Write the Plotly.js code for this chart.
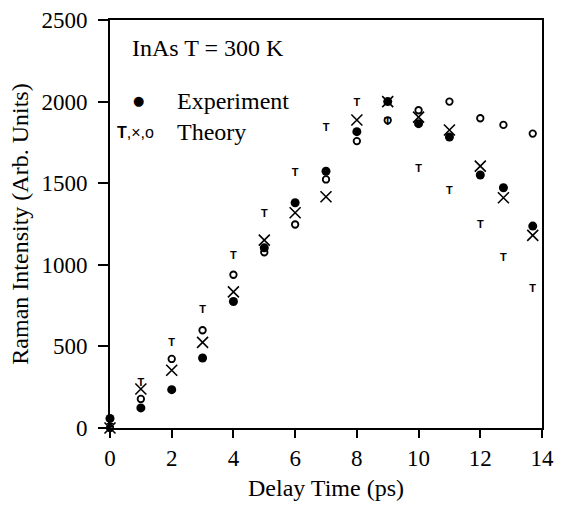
<!DOCTYPE html>
<html>
<head>
<meta charset="utf-8">
<script src="https://cdn.plot.ly/plotly-3.0.1.min.js"></script>
<style>body{margin:0;background:#fff}#chart{width:561px;height:506px}</style>
</head>
<body>
<div id="chart"></div>
<script>
// Delay times (ps)
const delay = [0, 1, 2, 3, 4, 5, 6, 7, 8, 9, 10, 11, 12, 12.75, 13.7];
// Experiment (filled circles)
const experiment = [58, 123, 235, 429, 775, 1104, 1380, 1573, 1816, 2000, 1865, 1783, 1550, 1472, 1237];
// Theory, "T" symbols
const theoryT = [0, 272, 517, 722, 1053, 1309, 1558, 1836, 1990, 1875, 1585, 1452, 1243, 1043, 853];
// Theory, crosses
const theoryX = [0, 239, 354, 525, 834, 1151, 1319, 1417, 1887, 2000, 1905, 1826, 1605, 1411, 1180];
// Theory, open circles
const theoryO = [0, 178, 423, 599, 939, 1077, 1247, 1523, 1758, 1885, 1947, 2000, 1898, 1857, 1804];

const xTicks = [0, 2, 4, 6, 8, 10, 12, 14];
const yTicks = [0, 500, 1000, 1500, 2000, 2500];

const serif = "Liberation Serif, Times New Roman, serif";

const traces = [
  {x: delay, y: theoryO, mode: "markers", type: "scatter", cliponaxis: false,
   marker: {symbol: "circle-open", size: 6.5, color: "#000", line: {width: 1.8, color: "#000"}}},
  {x: delay, y: theoryX, mode: "markers", type: "scatter", cliponaxis: false,
   marker: {symbol: "x-thin-open", size: 11, color: "#000", line: {width: 1.6, color: "#000"}}},
  {x: delay, y: theoryT, mode: "text", type: "scatter", cliponaxis: false,
   text: theoryT.map(() => "<b>T</b>"), textposition: "middle center",
   textfont: {family: "Liberation Sans, Arial, sans-serif", size: 11, color: "#000000"}},
  {x: delay, y: experiment, mode: "markers", type: "scatter", cliponaxis: false,
   marker: {symbol: "circle", size: 9, color: "#000"}}
];

const layout = {
  width: 561, height: 506,
  margin: {l: 110, r: 19, t: 20, b: 78},
  paper_bgcolor: "#fff", plot_bgcolor: "#fff",
  showlegend: false,
  font: {family: serif, color: "#000", size: 23},
  xaxis: {
    range: [0, 14], tickvals: xTicks, ticktext: xTicks.map(String),
    showgrid: false, zeroline: false, showline: true, mirror: true,
    linecolor: "#000", linewidth: 2, ticks: "outside", ticklen: 8, tickwidth: 2, tickcolor: "#000",
    tickfont: {family: serif, size: 23, color: "#000"},
    title: {text: "Delay Time (ps)", font: {family: serif, size: 24, color: "#000"}, standoff: 10}
  },
  yaxis: {
    range: [0, 2500], tickvals: yTicks, ticktext: yTicks.map(String),
    showgrid: false, zeroline: false, showline: true, mirror: true,
    linecolor: "#000", linewidth: 2, ticks: "outside", ticklen: 10, tickwidth: 2, tickcolor: "#000",
    ticklabelstandoff: 6,
    tickfont: {family: serif, size: 23, color: "#000"},
    title: {text: "Raman Intensity (Arb. Units)", font: {family: serif, size: 24, color: "#000"}, standoff: 6}
  },
  annotations: [
    {xref: "paper", yref: "paper", x: (130 - 110) / 432, y: (428 - 48) / 408, xanchor: "left", yanchor: "middle",
     text: "InAs T = 300 K", showarrow: false, font: {family: serif, size: 24, color: "#000"}},
    {xref: "paper", yref: "paper", x: (138 - 110) / 432, y: (428 - 101) / 408, xanchor: "center", yanchor: "middle",
     text: "●", showarrow: false, font: {family: "DejaVu Sans", size: 13, color: "#000"}},
    {xref: "paper", yref: "paper", x: (175 - 110) / 432, y: (428 - 101) / 408, xanchor: "left", yanchor: "middle",
     text: "Experiment", showarrow: false, font: {family: serif, size: 24, color: "#000"}},
    {xref: "paper", yref: "paper", x: (115 - 110) / 432, y: (428 - 132) / 408, xanchor: "left", yanchor: "middle",
     text: "<b>T</b>,×,o", showarrow: false, font: {family: "Liberation Sans, Arial, sans-serif", size: 16, color: "#000"}},
    {xref: "paper", yref: "paper", x: (175 - 110) / 432, y: (428 - 132) / 408, xanchor: "left", yanchor: "middle",
     text: "Theory", showarrow: false, font: {family: serif, size: 24, color: "#000"}}
  ]
};

Plotly.newPlot("chart", traces, layout, {displayModeBar: false, staticPlot: true});
</script>
</body>
</html>
